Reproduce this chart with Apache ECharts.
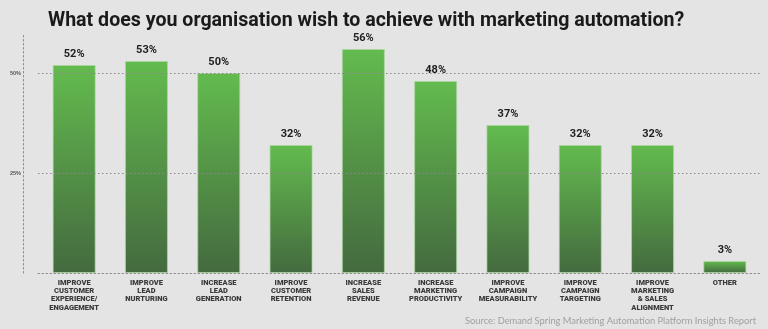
<!DOCTYPE html>
<html><head><meta charset="utf-8">
<script src="https://cdn.jsdelivr.net/npm/echarts@6/dist/echarts.min.js"></script>
<style>html,body{margin:0;padding:0;background:#e4e4e4;}#c{width:768px;height:329px;}</style>
</head><body><div id="c"></div>
<script>
const categories = [
  "IMPROVE\nCUSTOMER\nEXPERIENCE/\nENGAGEMENT",
  "IMPROVE\nLEAD\nNURTURING",
  "INCREASE\nLEAD\nGENERATION",
  "IMPROVE\nCUSTOMER\nRETENTION",
  "INCREASE\nSALES\nREVENUE",
  "INCREASE\nMARKETING\nPRODUCTIVITY",
  "IMPROVE\nCAMPAIGN\nMEASURABILITY",
  "IMPROVE\nCAMPAIGN\nTARGETING",
  "IMPROVE\nMARKETING\n& SALES\nALIGNMENT",
  "OTHER"
];
const values = [52, 53, 50, 32, 56, 48, 37, 32, 32, 3];
const yTicks = [25, 50];
const titleText = "What does you organisation wish to achieve with marketing automation?";
const sourceText = "Source: Demand Spring Marketing Automation Platform Insights Report";

const chart = echarts.init(document.getElementById('c'), null, {renderer:'canvas'});
chart.setOption({
  backgroundColor: '#e4e4e4',
  animation: false,
  title: [{
    text: titleText, left: 43, top: 6,
    textStyle: {fontFamily: 'Roboto', fontWeight: 'bold', fontSize: 19.6, color: '#1a1a1a'}
  }, {
    text: sourceText, right: 7, top: 311,
    textStyle: {fontFamily: 'Lato', fontWeight: 'normal', fontSize: 9.3, color: '#a0a0a0'}
  }],
  grid: {left: 38, right: 7, top: 33, bottom: 56},
  xAxis: {
    type: 'category', data: categories,
    axisLine: {show: true, lineStyle: {color: '#8a8a8a', type: [1.5, 2.5], width: 1}},
    axisTick: {show: false},
    axisLabel: {interval: 0, fontFamily: 'Roboto', fontWeight: 900, fontSize: 7.5, lineHeight: 8.2, color: '#3a3a3a', margin: 6}
  },
  yAxis: {
    type: 'value', min: 0, max: 60, interval: 25, offset: 15,
    axisLine: {show: true, lineStyle: {color: '#8a8a8a', type: [1.5, 2.5], width: 1}},
    axisTick: {show: false},
    splitLine: {show: false},
    axisLabel: {
      fontSize: 5.5, fontWeight: 'bold', color: '#555', margin: 2,
      formatter: v => yTicks.includes(v) ? v + '%' : ''
    }
  },
  series: [{
    type: 'bar', data: values, barWidth: 43,
    itemStyle: {
      borderColor: 'rgba(170,215,160,0.7)', borderWidth: 1,
      color: new echarts.graphic.LinearGradient(0, 0, 0, 1, [
        {offset: 0, color: '#63bb4e'},
        {offset: 1, color: '#446a3f'}
      ])
    },
    label: {
      show: true, position: 'top', distance: 5, formatter: '{c}%',
      fontFamily: 'Roboto', fontWeight: 'bold', fontSize: 11, color: '#1e1e1e'
    },
    markLine: {
      silent: true, symbol: 'none', label: {show: false},
      lineStyle: {color: '#8a8a8a', type: [1.5, 2.5], width: 1},
      data: yTicks.map(t => ({yAxis: t}))
    },
    z: 3
  }]
});
</script></body></html>
